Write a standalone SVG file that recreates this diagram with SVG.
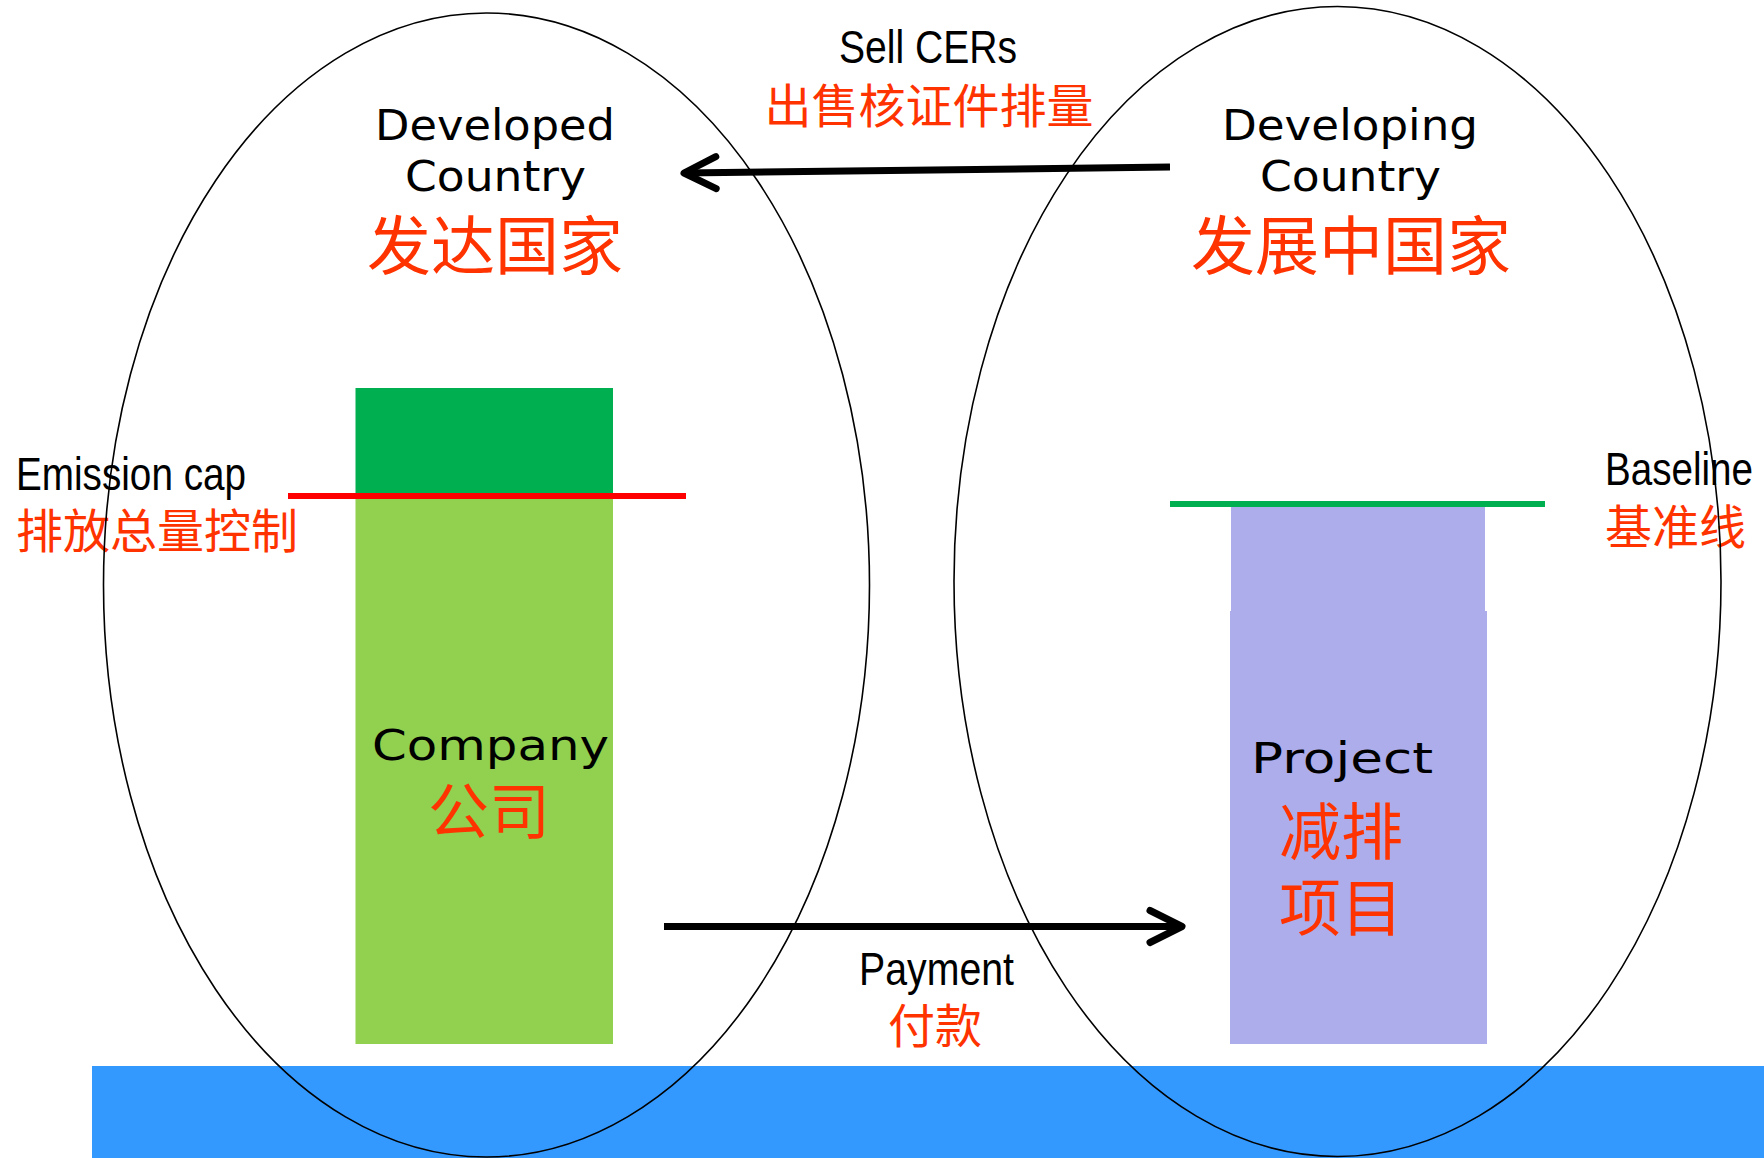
<svg xmlns="http://www.w3.org/2000/svg" width="1764" height="1158" viewBox="0 0 1764 1158">
<style>
.en{font-family:"DejaVu Sans",sans-serif;font-size:42px;fill:#000}
.nar{font-family:"Liberation Sans",Arial,sans-serif;font-size:46px;fill:#000}
.zh{font-family:"Noto Sans CJK SC",sans-serif;fill:#FF3300}
.ell{fill:none;stroke:#000;stroke-width:1.6}
.arr{fill:none;stroke:#000;stroke-width:7}
</style>
<defs>
<marker id="head" markerUnits="userSpaceOnUse" viewBox="-42 -22 48 44" markerWidth="48" markerHeight="44" refX="0" refY="0" orient="auto">
<path d="M-32,-16 L0,0 L-32,16" fill="none" stroke="#000" stroke-width="7" stroke-linecap="round" stroke-linejoin="round"/>
</marker>
</defs>
<rect id="ground" x="92" y="1066" width="1672" height="92" fill="#3399FF"/>
<g id="company">
<rect x="355.5" y="388" width="257.5" height="107" fill="#00B050"/>
<rect x="355.5" y="495" width="257.5" height="549" fill="#92D050"/>
<text class="en" x="372" y="760" textLength="237" lengthAdjust="spacingAndGlyphs">Company</text>
<text class="zh" x="489" y="834" font-size="61" text-anchor="middle">公司</text>
</g>
<g id="project">
<rect x="1231" y="504" width="254" height="110" fill="#ADADEB"/>
<rect x="1230" y="611" width="257" height="433" fill="#ADADEB"/>
<text class="en" x="1251" y="773" textLength="182" lengthAdjust="spacingAndGlyphs">Project</text>
<text class="zh" x="1279" y="855" font-size="62">减排</text>
<text class="zh" x="1279" y="931" font-size="62">项目</text>
</g>
<g id="emission-cap">
<line x1="288" y1="496" x2="686" y2="496" stroke="#FF0000" stroke-width="6"/>
<text class="nar" x="16" y="490" textLength="230" lengthAdjust="spacingAndGlyphs" font-size="45">Emission cap</text>
<text class="zh" x="16" y="548" font-size="47">排放总量控制</text>
</g>
<g id="baseline">
<line x1="1170" y1="504" x2="1545" y2="504" stroke="#00B050" stroke-width="6"/>
<text class="nar" x="1605" y="485" textLength="148" lengthAdjust="spacingAndGlyphs">Baseline</text>
<text class="zh" x="1605" y="544" font-size="47">基准线</text>
</g>
<g id="developed">
<ellipse class="ell" cx="486.5" cy="585" rx="383" ry="572"/>
<text class="en" x="375" y="140" textLength="240" lengthAdjust="spacingAndGlyphs">Developed</text>
<text class="en" x="405" y="191" textLength="181" lengthAdjust="spacingAndGlyphs">Country</text>
<text class="zh" x="495" y="269" font-size="64" text-anchor="middle">发达国家</text>
</g>
<g id="developing">
<ellipse class="ell" cx="1337.5" cy="581.5" rx="383.5" ry="575"/>
<text class="en" x="1222" y="140" textLength="256" lengthAdjust="spacingAndGlyphs">Developing</text>
<text class="en" x="1260" y="191" textLength="181" lengthAdjust="spacingAndGlyphs">Country</text>
<text class="zh" x="1351" y="269" font-size="64" text-anchor="middle">发展中国家</text>
</g>
<g id="connectors">
<line class="arr" x1="1170" y1="167" x2="684" y2="173" marker-end="url(#head)"/>
<line class="arr" x1="664" y1="926.5" x2="1182" y2="926.5" marker-end="url(#head)"/>
<text class="nar" x="839" y="63" textLength="178" lengthAdjust="spacingAndGlyphs">Sell CERs</text>
<text class="zh" x="929" y="123" font-size="47" text-anchor="middle">出售核证件排量</text>
<text class="nar" x="859" y="985" textLength="155" lengthAdjust="spacingAndGlyphs">Payment</text>
<text class="zh" x="935" y="1043" font-size="47" text-anchor="middle">付款</text>
</g>
</svg>
